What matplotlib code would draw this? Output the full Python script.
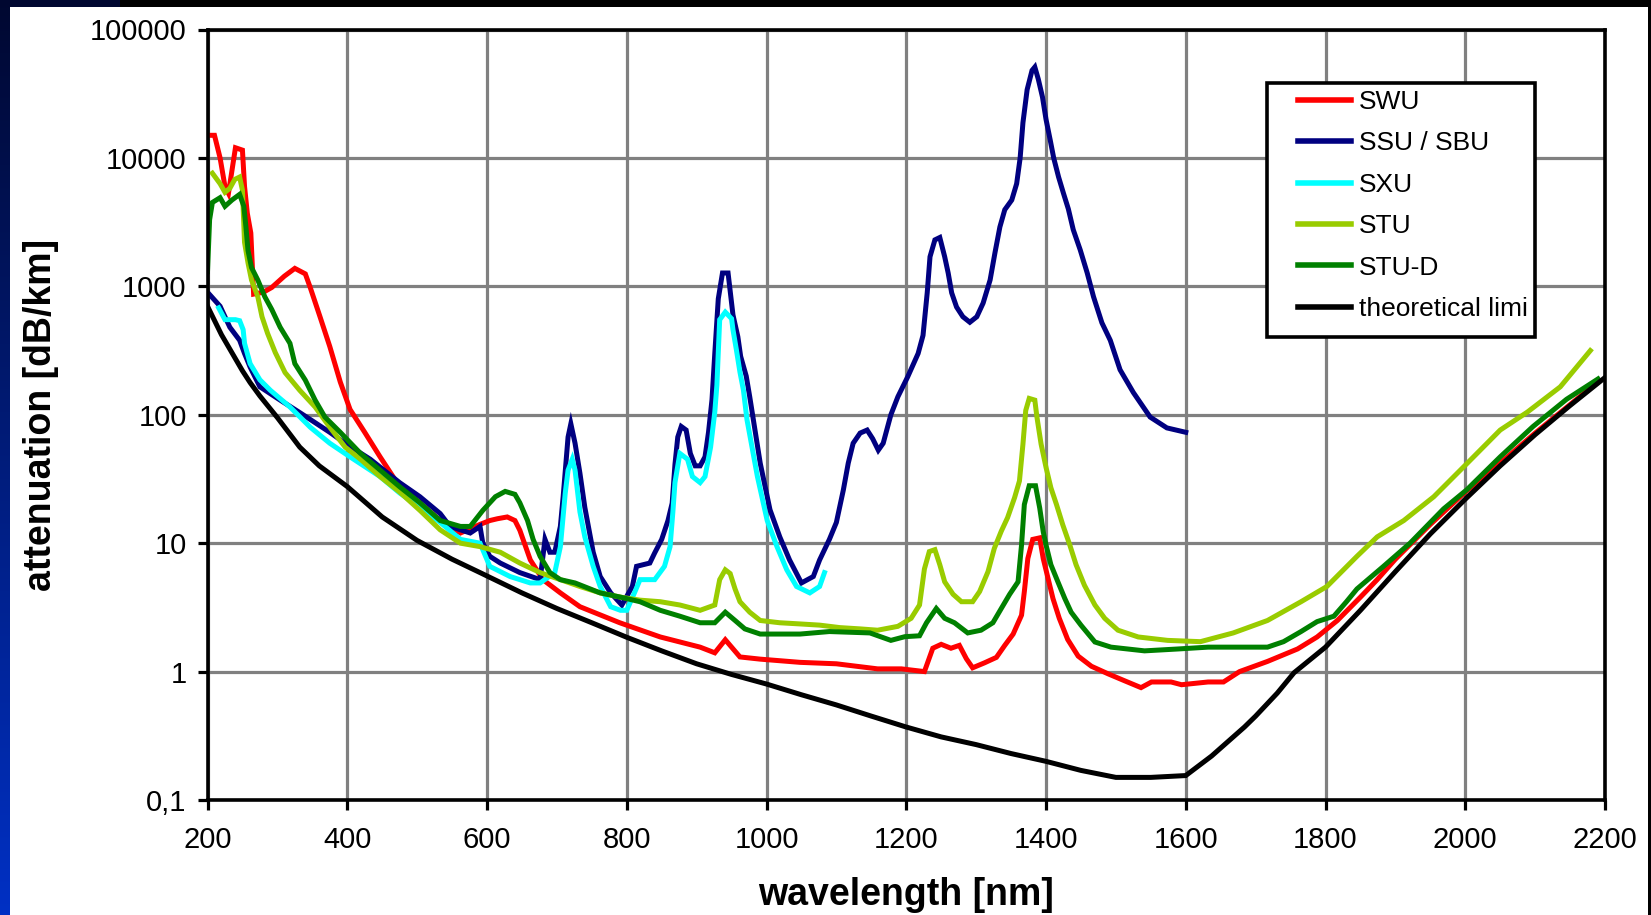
import matplotlib
matplotlib.use('Agg')
import matplotlib.pyplot as plt
import numpy as np
from matplotlib.patches import Rectangle
from matplotlib.ticker import FixedLocator, FixedFormatter, NullLocator

plt.rcParams['font.family'] = ['Liberation Sans', 'DejaVu Sans']

# SWU
wl_swu = [200, 210, 218, 225, 230, 240, 250, 253, 257, 262, 266, 280, 292, 310, 325, 340, 347, 361,
          375, 390, 404, 425, 447, 475, 504, 533, 562, 590, 604, 615, 629, 640, 647, 662, 680, 705,
          733, 790, 848, 905, 926, 941, 962, 991, 1048, 1100, 1159, 1193, 1226, 1238, 1250, 1264,
          1276, 1286, 1295, 1312, 1329, 1341, 1353, 1365, 1369, 1374, 1381, 1391, 1396, 1403, 1410,
          1419, 1431, 1446, 1465, 1489, 1512, 1536, 1551, 1579, 1594, 1632, 1654, 1677, 1717, 1760,
          1788, 1817, 1850, 1874, 1900, 1950, 2000, 2050, 2100, 2150, 2190]
att_swu = [15000, 15000, 10000, 6000, 5300, 12000, 11500, 6000, 3700, 2600, 870, 900, 980, 1200, 1380,
           1250, 980, 580, 340, 180, 110, 73, 47, 27.5, 20.6, 15, 12, 14, 15, 15.5, 16, 15, 12.6, 7.4,
           5.2, 4.1, 3.2, 2.4, 1.86, 1.55, 1.4, 1.77, 1.3, 1.25, 1.18, 1.15, 1.05, 1.05, 1.0, 1.52,
           1.63, 1.52, 1.6, 1.26, 1.07, 1.17, 1.29, 1.6, 1.96, 2.75, 4.2, 7.6, 10.7, 11, 7.6, 5.3,
           3.7, 2.6, 1.78, 1.32, 1.1, 0.96, 0.85, 0.75, 0.83, 0.83, 0.79, 0.83, 0.83, 1.0, 1.2, 1.5,
           1.86, 2.5, 3.8, 5.2, 7.5, 14, 25, 42, 72, 120, 180]

# SSU / SBU
wl_ssu = [200, 218, 232, 246, 253, 261, 275, 304, 332, 375, 397, 433, 475, 504, 533, 547, 576, 590,
          594, 604, 619, 647, 676, 683, 690, 697, 705, 709, 716, 720, 726, 733, 740, 752, 762, 777,
          793, 808, 814, 833, 840, 850, 859, 865, 869, 873, 878, 885, 891, 898, 905, 912, 917, 922,
          926, 931, 937, 945, 952, 959, 963, 971, 976, 991, 1005, 1019, 1033, 1050, 1067, 1076,
          1090, 1100, 1110, 1117, 1124, 1134, 1144, 1152, 1160, 1167, 1178, 1188, 1202, 1217, 1224,
          1230, 1234, 1241, 1248, 1255, 1260, 1265, 1272, 1281, 1291, 1301, 1310, 1320, 1327, 1334,
          1341, 1351, 1358, 1363, 1367, 1373, 1380, 1384, 1389, 1395, 1400, 1406, 1411, 1418, 1425,
          1432, 1439, 1449, 1459, 1468, 1480, 1492, 1506, 1525, 1549, 1573, 1600]
att_ssu = [900, 700, 480, 380, 300, 235, 165, 130, 104, 73, 60, 45, 29.6, 23, 17, 13.5, 12, 13.5,
           10, 7.9, 7, 5.9, 5.2, 10.7, 8.5, 8.5, 13.5, 23, 67, 85, 60, 35, 19, 8.5, 5.5, 4.1,
           3.3, 4.6, 6.6, 7, 8.4, 10.7, 15, 20.5, 41, 67, 81, 76, 50, 40, 40, 47, 73, 131,
           300, 800, 1270, 1270, 600, 405, 285, 200, 138, 42, 18.2, 11.2, 7.4, 4.9, 5.5, 7.4,
           10.7, 14.5, 26, 42, 60, 72, 76, 65, 53, 60, 100, 138, 197, 300, 415,
           890, 1700, 2300, 2400, 1700, 1270, 890, 690, 580, 525, 580, 740, 1120, 1830, 2900,
           3950, 4700, 6300, 10000, 18800, 34000, 48000, 51000, 41000, 29700, 20000, 13800, 10000, 7100, 5300,
           4000, 2760, 1920, 1270, 830, 520, 380, 224, 149, 96, 79, 73]

# SXU
wl_sxu = [216, 225, 240, 246, 251, 253, 261, 275, 290, 318, 347, 375, 404, 447, 475, 504, 533, 562,
          590, 604, 633, 662, 676, 697, 705, 712, 716, 722, 726, 733, 740, 752, 762, 777, 791, 800,
          811, 819, 840, 854, 862, 866, 869, 876, 887, 894, 905, 912, 920, 926, 929, 933, 941, 950,
          952, 957, 962, 967, 972, 987, 1001, 1015, 1029, 1043, 1062, 1076, 1083]
att_sxu = [680, 550, 550, 540, 460, 360, 250, 187, 155, 115, 80, 60, 47, 33, 24.6, 19, 14.5, 10.7,
           10, 6.6, 5.5, 4.9, 4.9, 5.9, 9.4, 24.6, 37, 45, 37, 17.5, 11.2, 6.6, 4.6, 3.2, 3.0, 3.0,
           4.1, 5.2, 5.2, 6.6, 9.4, 17.5, 29.6, 50, 45, 33, 29.6, 33, 56, 105, 170, 550, 630, 560,
           460, 318, 215, 155, 92, 33, 15, 9.4, 6.2, 4.6, 4.1, 4.6, 5.9]

# STU
wl_stu = [207, 218, 225, 232, 239, 246, 250, 253, 258, 263, 272, 278, 286, 297, 311, 332, 354, 375,
          397, 419, 447, 475, 504, 533, 562, 590, 619, 647, 676, 705, 733, 762, 791, 819, 848, 876,
          905, 926, 933, 941, 948, 955, 962, 976, 991, 1019, 1048, 1076, 1105, 1134, 1159, 1188,
          1207, 1219, 1226, 1233, 1241, 1248, 1255, 1267, 1279, 1295, 1305, 1317, 1326, 1336, 1345,
          1355, 1362, 1367, 1371, 1376, 1384, 1387, 1393, 1400, 1407, 1415, 1424, 1434, 1443, 1455,
          1470, 1484, 1503, 1532, 1574, 1621, 1668, 1717, 1765, 1802, 1845, 1874, 1912, 1955, 2003,
          2050, 2089, 2136, 2179]
att_stu = [7600, 6300, 5400, 5800, 6800, 7100, 5600, 2200, 1520, 1120, 830, 580, 430, 305, 213, 155,
           115, 80, 56, 45, 33, 25, 18, 12.7, 10, 9.4, 8.5, 7, 5.9, 5.2, 4.6, 4.1, 3.8, 3.6, 3.5,
           3.3, 3.0, 3.3, 5.2, 6.2, 5.8, 4.4, 3.5, 2.9, 2.5, 2.4, 2.35, 2.3, 2.2, 2.15, 2.1, 2.25,
           2.6, 3.3, 6.3, 8.6, 8.9, 6.8, 5.0, 4.0, 3.5, 3.5, 4.2, 6.0, 9.1, 12.4, 15.8, 22.6, 30.5,
           59, 108, 134, 130, 96, 59, 39, 27, 20, 13.9, 9.7, 6.8, 4.7, 3.3, 2.6, 2.1, 1.86, 1.75,
           1.71, 2.0, 2.5, 3.5, 4.6, 7.9, 11.2, 15, 23, 42, 76, 105, 165, 316]

# STU-D
wl_stud = [200, 203, 207, 218, 225, 235, 246, 252, 255, 258, 263, 272, 282, 292, 304, 318, 325, 340,
           354, 368, 390, 419, 447, 475, 504, 533, 562, 576, 594, 612, 626, 640, 647, 658, 666, 676,
           690, 705, 726, 762, 791, 819, 848, 876, 905, 926, 941, 955, 969, 991, 1048, 1090, 1148,
           1178, 1198, 1219, 1229, 1243, 1255, 1269, 1288, 1307, 1324, 1336, 1348, 1360, 1365, 1369,
           1376, 1385, 1391, 1396, 1400, 1407, 1417, 1427, 1436, 1450, 1470, 1493, 1541, 1589, 1632,
           1717, 1740, 1765, 1788, 1812, 1830, 1845, 1883, 1921, 1969, 2002, 2050, 2097, 2145, 2190]
att_stud = [1300, 3300, 4500, 4900, 4200, 4700, 5200, 4200, 2900, 1900, 1400, 1120, 830, 660, 480, 360,
            250, 186, 130, 96, 73, 50, 37, 27.5, 20.6, 15, 13.5, 13.5, 18, 23, 25.3, 24, 20.6, 15,
            10.7, 7.9, 5.9, 5.2, 4.9, 4.1, 3.8, 3.5, 3.0, 2.7, 2.4, 2.4, 2.9, 2.5, 2.15, 1.96, 1.96,
            2.05, 2.0, 1.75, 1.87, 1.9, 2.4, 3.1, 2.6, 2.4, 2.0, 2.1, 2.4, 3.1, 4.0, 5.0, 9.7, 20,
            28, 28, 18.8, 12.3, 9.7, 6.8, 5.0, 3.7, 2.9, 2.3, 1.7, 1.55, 1.45, 1.5, 1.55, 1.55,
            1.71, 2.05, 2.45, 2.7, 3.5, 4.4, 6.6, 10, 18.5, 26, 47, 81, 132, 190]

# theoretical limit
wl_lim = [200, 220, 250, 261, 275, 300, 332, 360, 400, 450, 500, 550, 590, 650, 700, 750, 800, 850,
          900, 950, 1000, 1050, 1100, 1150, 1200, 1250, 1300, 1350, 1400, 1450, 1500, 1550, 1600,
          1637, 1684, 1700, 1731, 1755, 1800, 1850, 1900, 1950, 2000, 2050, 2100, 2150, 2200]
att_lim = [700, 420, 220, 178, 140, 95, 56, 40, 27.6, 16, 10.5, 7.5, 5.9, 4.1, 3.1, 2.4, 1.85, 1.45,
           1.15, 0.95, 0.8, 0.66, 0.55, 0.45, 0.37, 0.31, 0.27, 0.23, 0.2, 0.17, 0.15, 0.15, 0.155,
           0.22, 0.37, 0.45, 0.68, 0.98, 1.55, 3.0, 6.0, 11.8, 22, 40, 70, 118, 195]

series = [
    ('SWU', wl_swu, att_swu, '#FF0000'),
    ('SSU / SBU', wl_ssu, att_ssu, '#000080'),
    ('SXU', wl_sxu, att_sxu, '#00FFFF'),
    ('STU', wl_stu, att_stu, '#99CC00'),
    ('STU-D', wl_stud, att_stud, '#008000'),
    ('theoretical limi', wl_lim, att_lim, '#000000'),
]

W, H = 1651, 915
fig = plt.figure(figsize=(W / 100, H / 100), dpi=100)
fig.patch.set_facecolor('white')

# dark frame: blue gradient at the left, black strip on top and right
left = np.zeros((H, 10, 3))
t = np.linspace(0, 1, H)[:, None]
left[:, :, 1] = 0.03 + 0.16 * t
left[:, :, 2] = 0.19 + 0.58 * t
fig.figimage(left, xo=0, yo=0, origin='upper', zorder=3)
top = np.zeros((7, W, 3))
top[:, :120, 1] = 0.03
top[:, :120, 2] = 0.19
fig.figimage(top, xo=0, yo=H - 7, origin='upper', zorder=3)
fig.figimage(np.zeros((H, 3, 3)), xo=W - 3, yo=0, origin='upper', zorder=3)

ax = fig.add_axes([207.5 / W, 1 - 800 / H, (1605 - 207.5) / W, (800 - 29.5) / H])

for name, x, y, c in series:
    ax.plot(x, y, color=c, linewidth=3.6, label=name, solid_joinstyle='miter')

ax.set_yscale('log')
ax.set_xlim(200, 2200)
ax.set_ylim(0.1, 100000)
ax.set_xticks(np.arange(200, 2201, 200))
ax.yaxis.set_major_locator(FixedLocator([0.1, 1, 10, 100, 1000, 10000, 100000]))
ax.yaxis.set_major_formatter(FixedFormatter(['0,1', '1', '10', '100', '1000', '10000', '100000']))
ax.yaxis.set_minor_locator(NullLocator())

ax.grid(True, color='#808080', linewidth=2.3)
ax.set_axisbelow(True)
for sp in ax.spines.values():
    sp.set_linewidth(2.6)
    sp.set_color('black')
ax.tick_params(axis='both', direction='out', length=7, width=2.3, labelsize=21, colors='black')
ax.tick_params(axis='y', pad=8)
ax.tick_params(axis='x', pad=12)

ax.set_xlabel('wavelength [nm]', fontsize=27, fontweight='bold', labelpad=16)
ax.set_ylabel('attenuation [dB/km]', fontsize=27, fontweight='bold', labelpad=22)

# legend box
box = Rectangle((1267 / W, 1 - 337 / H), (1535 - 1267) / W, (337 - 83) / H,
                transform=fig.transFigure, facecolor='white', edgecolor='black',
                linewidth=2.6, zorder=4)
fig.patches.append(box)
handles, labels = ax.get_legend_handles_labels()
leg = fig.legend(handles, labels, loc='upper left', bbox_to_anchor=(1298 / W, 1 - 90 / H),
                 bbox_transform=fig.transFigure, frameon=False, fontsize=19,
                 handlelength=2.0, handletextpad=0.3, labelspacing=0.66, borderpad=0,
                 borderaxespad=0)
leg.set_zorder(5)
for line in leg.get_lines():
    line.set_linewidth(4)

fig.savefig('out.png', dpi=100, facecolor='white')
